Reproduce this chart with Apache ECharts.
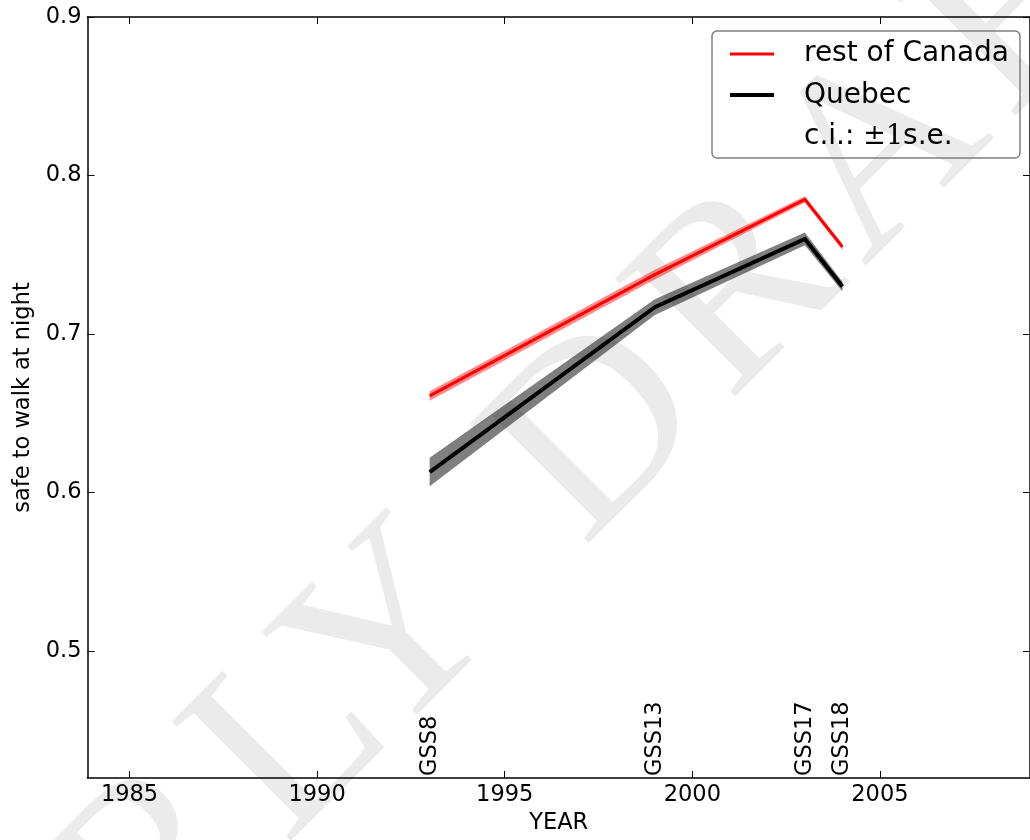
<!DOCTYPE html>
<html>
<head>
<meta charset="utf-8">
<script src="https://cdn.jsdelivr.net/npm/echarts@6/dist/echarts.min.js"></script>
<style>
html,body{margin:0;padding:0;background:#fff;}
#chart{width:1030px;height:840px;}
</style>
</head>
<body>
<div id="chart"></div>
<script>
// ---- data ----
const surveyYears = [1993, 1999, 2003, 2004];
const surveyLabels = ['GSS8', 'GSS13', 'GSS17', 'GSS18'];
const restOfCanada = [0.661, 0.7375, 0.785, 0.755];
const restOfCanadaSE = [0.003, 0.003, 0.002, 0.002];
const quebec = [0.613, 0.717, 0.760, 0.730];
const quebecSE = [0.009, 0.005, 0.004, 0.003];
const xTicks = [1985, 1990, 1995, 2000, 2005];
const yTicks = [0.5, 0.6, 0.7, 0.8, 0.9];
const legendNames = ['rest of Canada', 'Quebec'];
const ciLabel = 'c.i.: {m|±1}s.e.';
const watermarkGlyphs = ['E', 'A', 'R', 'LY', ' ', 'D', 'R', 'A', 'F', 'T'];

const X_MIN = 1983.88, X_MAX = 2009, Y_MIN = 0.42, Y_MAX = 0.9;
const FONT = 'DejaVu Sans';
const FS = 22.5;

function pairs(xs, ys) { return xs.map((x, i) => [x, ys[i]]); }

// band polygon drawn through the axis scale (api.coord)
function bandSeries(name, values, se, color) {
  return {
    name: name, type: 'custom', z: 1, silent: true,
    data: surveyYears.map((x, i) => [x, values[i] - se[i], values[i] + se[i]]),
    renderItem: function (params, api) {
      if (params.dataIndex !== 0) return null;
      const upper = surveyYears.map((x, i) => api.coord([x, values[i] + se[i]]));
      const lower = surveyYears.map((x, i) => api.coord([x, values[i] - se[i]])).reverse();
      return {type: 'polygon', shape: {points: upper.concat(lower)}, style: {fill: color}};
    }
  };
}

// watermark with letter tracking via rich text
const wmRich = watermarkGlyphs.map(c => '{c|' + c + '}').join('{g| }');

const chart = echarts.init(document.getElementById('chart'), null, {renderer: 'canvas'});

const axisLineStyle = {color: '#000', width: 1.5};

const option = {
  animation: false,
  backgroundColor: '#fff',
  grid: {left: 87.5, top: 17, width: 943.5, height: 762},
  xAxis: [{
    type: 'value', min: X_MIN, max: X_MAX, position: 'bottom',
    name: 'YEAR', nameLocation: 'middle', nameGap: 34,
    nameTextStyle: {fontFamily: FONT, fontSize: FS, color: '#000'},
    axisLine: {show: true, lineStyle: axisLineStyle},
    axisTick: {show: true, inside: true, length: 7, customValues: xTicks, lineStyle: {color: '#000', width: 1}},
    axisLabel: {show: true, customValues: xTicks, margin: 6, fontFamily: FONT, fontSize: FS, color: '#000', formatter: v => String(v)},
    splitLine: {show: false}
  }, {
    type: 'value', min: X_MIN, max: X_MAX, position: 'top',
    axisLine: {show: true, lineStyle: axisLineStyle},
    axisTick: {show: true, inside: true, length: 7, customValues: xTicks, lineStyle: {color: '#000', width: 1}},
    axisLabel: {show: false},
    splitLine: {show: false}
  }],
  yAxis: [{
    type: 'value', min: Y_MIN, max: Y_MAX, position: 'left',
    name: 'safe to walk at night', nameLocation: 'middle', nameGap: 53,
    nameTextStyle: {fontFamily: FONT, fontSize: FS, color: '#000'},
    axisLine: {show: true, lineStyle: axisLineStyle},
    axisTick: {show: true, inside: true, length: 7, customValues: yTicks, lineStyle: {color: '#000', width: 1}},
    axisLabel: {show: true, customValues: yTicks, margin: 6, fontFamily: FONT, fontSize: FS, color: '#000', formatter: v => v.toFixed(1)},
    splitLine: {show: false}
  }, {
    type: 'value', min: Y_MIN, max: Y_MAX, position: 'right',
    axisLine: {show: true, lineStyle: axisLineStyle},
    axisTick: {show: true, inside: true, length: 7, customValues: yTicks, lineStyle: {color: '#000', width: 1}},
    axisLabel: {show: false},
    splitLine: {show: false}
  }],
  graphic: [{
    type: 'text', z: -10,
    x: 510, y: 526, rotation: Math.PI / 4,
    style: {
      text: wmRich, align: 'center', verticalAlign: 'middle', fill: '#ebebeb',
      rich: {
        c: {fontFamily: 'Liberation Serif', fontSize: 257, fill: '#ebebeb'},
        g: {fontFamily: 'Liberation Serif', fontSize: 80, fill: '#ebebeb'}
      }
    },
    silent: true
  }, {
    type: 'group', z: 100,
    children: [
      {type: 'rect', shape: {x: 712, y: 31, width: 308, height: 127, r: 5}, style: {fill: 'rgba(255,255,255,0)', stroke: '#7f7f7f', lineWidth: 1.5}},
      {type: 'line', shape: {x1: 730, y1: 54, x2: 774, y2: 54}, style: {stroke: '#ff0000', lineWidth: 3}},
      {type: 'line', shape: {x1: 730, y1: 95, x2: 774, y2: 95}, style: {stroke: '#000', lineWidth: 4}},
      {type: 'text', x: 804, y: 54, style: {text: legendNames[0], font: '28px "DejaVu Sans"', fill: '#000', verticalAlign: 'middle'}},
      {type: 'text', x: 804, y: 96, style: {text: legendNames[1], font: '28px "DejaVu Sans"', fill: '#000', verticalAlign: 'middle'}},
      {type: 'text', x: 804, y: 137, style: {text: ciLabel, font: '28px "DejaVu Sans"', fill: '#000', verticalAlign: 'middle',
        rich: {m: {fontFamily: 'DejaVu Serif', fontSize: 27, fill: '#000'}}}}
    ]
  }],
  series: [
    bandSeries('rocBand', restOfCanada, restOfCanadaSE, 'rgba(255,0,0,0.45)'),
    bandSeries('qcBand', quebec, quebecSE, 'rgba(0,0,0,0.5)'),
    {name: legendNames[0], type: 'line', data: pairs(surveyYears, restOfCanada), symbol: 'none', lineStyle: {color: '#ff0000', width: 3, join: 'miter'}, z: 3},
    {name: legendNames[1], type: 'line', data: pairs(surveyYears, quebec), symbol: 'none', lineStyle: {color: '#000000', width: 4, join: 'miter'}, z: 3},
    {name: 'surveys', type: 'custom', data: surveyYears.map(y => [y]), z: 4, silent: true,
      renderItem: function (params, api) {
        const pt = api.coord([api.value(0), Y_MIN]);
        return {type: 'text', x: pt[0], y: pt[1] - 2, rotation: Math.PI / 2,
          style: {text: surveyLabels[params.dataIndex], font: FS + 'px "DejaVu Sans"', fill: '#000', align: 'left', verticalAlign: 'middle'}};
      }
    }
  ]
};
chart.setOption(option);
</script>
</body>
</html>
